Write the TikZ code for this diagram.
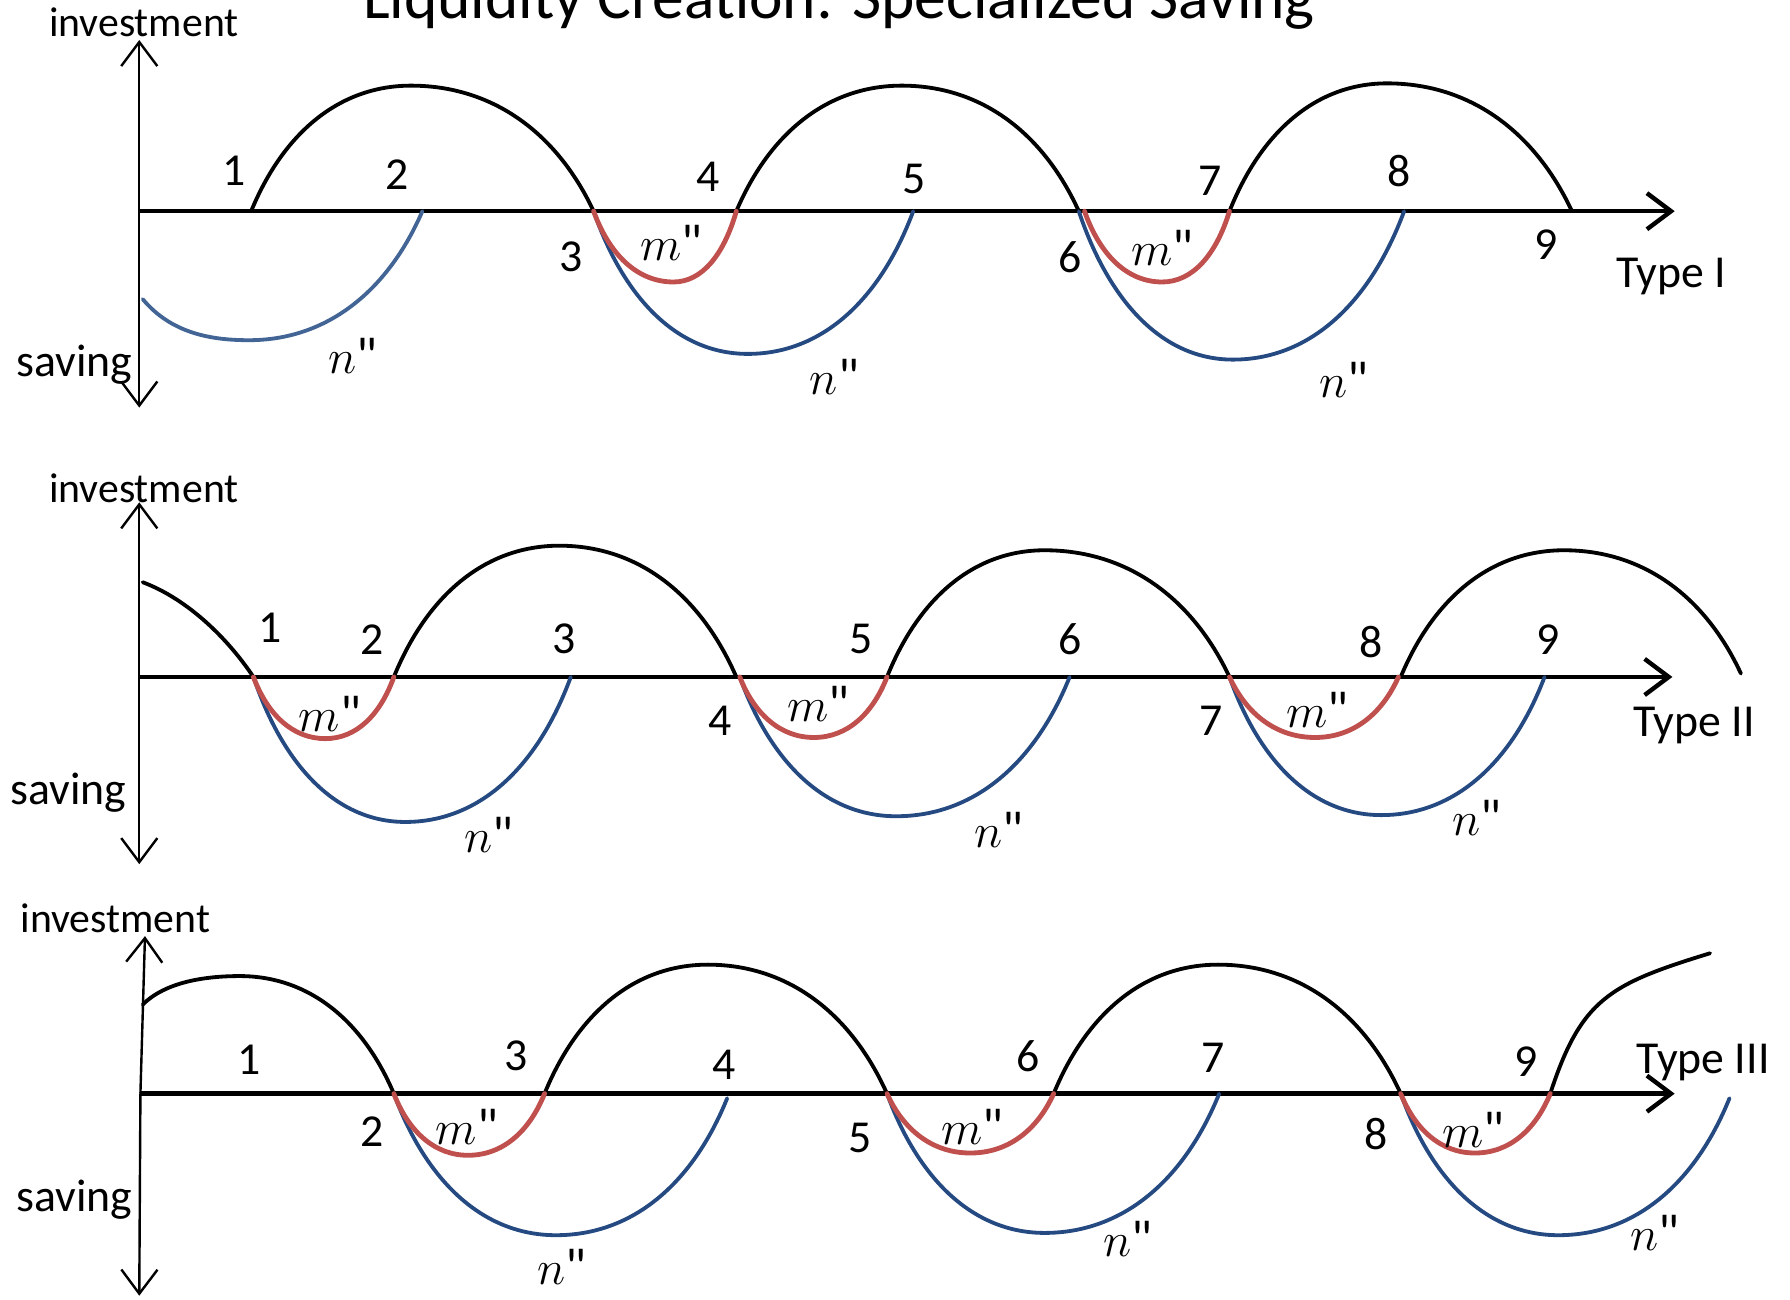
\documentclass[tikz,border=0pt]{standalone}
\usepackage{fontspec}
\setmainfont{Carlito}
\usepackage{tikz}
\usetikzlibrary{arrows.meta}

\definecolor{nblue}{RGB}{37,74,130}
\definecolor{nbluelight}{RGB}{66,101,150}
\definecolor{mred}{RGB}{192,80,77}

% half waves: rise from axis to a top (or bottom), fall back to the axis
\newcommand{\wup}[4]{(#1,#2) .. controls ({#1+(#3-#1)*0.2},{#2+(#4-#2)*0.62}) and ({#3-(#3-#1)*0.45},#4) .. (#3,#4)}
\newcommand{\wdn}[4]{.. controls ({#1+(#3-#1)*0.45},#2) and ({#3-(#3-#1)*0.2},{#4+(#2-#4)*0.62}) .. (#3,#4)}
\newcommand{\dq}{\textquotedbl}

\begin{document}
\begin{tikzpicture}[x=0.01cm,y=-0.01cm,>={Straight Barb[length=6pt,width=9pt]},
  axis/.style={line width=1.1pt},
  vaxis/.style={line width=0.6pt},
  invest/.style={line width=0.95pt,line cap=round},
  nline/.style={nblue,line width=0.95pt,line cap=round},
  mline/.style={mred,line width=1.2pt,line cap=round},
  num/.style={font=\fontsize{11.4}{13}\selectfont},
  var/.style={font=\fontsize{13}{15}\selectfont},
  lab/.style={font=\fontsize{11.4}{13}\selectfont,anchor=base},
  inv/.style={font=\fontsize{10.4}{12}\selectfont,anchor=base}]
  \useasboundingbox (0,0) rectangle (1568,1138);

  \node[anchor=base,font=\fontsize{15.8}{18}\selectfont] (title) at (735,16) {Liquidity Creation: Specialized Saving};

  % Type I
  \coordinate (o1) at (122,185);
  \coordinate (up1) at (122,35);
  \coordinate (dn1) at (122,357);
  \coordinate (rt1) at (1467,185);
  \draw[vaxis,->] (o1) -- (up1);
  \draw[vaxis,->] (o1) -- (dn1);
  \draw[axis,->] (o1) -- (rt1);
  \node[inv] (inv1) at (126,32) {investment};
  \node[lab] (sav1) at (65,330) {saving};
  \node[lab] (type1) at (1464,252) {Type I};

  \draw[invest] \wup{220}{185}{360}{75}\wdn{360}{75}{520}{185};
  \draw[invest] \wup{645}{185}{790}{75}\wdn{790}{75}{945}{185};
  \draw[invest] \wup{1077}{185}{1215}{73}\wdn{1215}{73}{1377}{185};
  \draw[nline,nbluelight] (125,262) .. controls (150,292) and (185,298) .. (218,298) \wdn{218}{298}{370}{185};
  \draw[nline] \wup{520}{185}{655}{310}\wdn{655}{310}{800}{185};
  \draw[nline] \wup{945}{185}{1080}{315}\wdn{1080}{315}{1230}{185};
  \draw[mline] \wup{520}{185}{590}{247}\wdn{590}{247}{645}{185};
  \draw[mline] \wup{950}{185}{1018}{247}\wdn{1018}{247}{1077}{185};

  \foreach \x/\y/\t [count=\i] in {205/150/1,348/153/2,500/225/3,620/155/4,801/157/5,937/225/6,1060/158/7,1226/150/8,1354/214/9}
    \node[num] (p1-\i) at (\x,\y) {\t};
  \node[var] (m1a) at (588,213) {$m$\dq};
  \node[var] (m1b) at (1018,217) {$m$\dq};
  \node[var] (n1a) at (309,312) {$n$\dq};
  \node[var] (n1b) at (731,330) {$n$\dq};
  \node[var] (n1c) at (1177,333) {$n$\dq};

  % Type II
  \coordinate (o2) at (122,593);
  \coordinate (up2) at (122,440);
  \coordinate (dn2) at (122,757);
  \coordinate (rt2) at (1465,593);
  \draw[vaxis,->] (o2) -- (up2);
  \draw[vaxis,->] (o2) -- (dn2);
  \draw[axis,->] (o2) -- (rt2);
  \node[inv] (inv2) at (126,440) {investment};
  \node[lab] (sav2) at (60,705) {saving};
  \node[lab] (type2) at (1484,645) {Type II};

  \draw[invest] (125,510) .. controls (165,525) and (200,560) .. (222,593);
  \draw[invest] \wup{345}{593}{490}{478}\wdn{490}{478}{645}{593};
  \draw[invest] \wup{777}{593}{915}{482}\wdn{915}{482}{1077}{593};
  \draw[invest] \wup{1227}{593}{1370}{482}\wdn{1370}{482}{1525}{590};
  \draw[nline] \wup{222}{593}{355}{720}\wdn{355}{720}{500}{593};
  \draw[nline] \wup{648}{593}{785}{715}\wdn{785}{715}{937}{593};
  \draw[nline] \wup{1077}{593}{1210}{714}\wdn{1210}{714}{1353}{593};
  \draw[mline] \wup{222}{593}{285}{647}\wdn{285}{647}{345}{593};
  \draw[mline] \wup{648}{593}{713}{646}\wdn{713}{646}{777}{593};
  \draw[mline] \wup{1077}{593}{1152}{646}\wdn{1152}{646}{1225}{593};

  \foreach \x/\y/\t [count=\i] in {237/550/1,326/560/2,494/560/3,631/631/4,754/560/5,937/560/6,1061/631/7,1201/562/8,1356/560/9}
    \node[num] (p2-\i) at (\x,\y) {\t};
  \node[var] (m2a) at (289,625) {$m$\dq};
  \node[var] (m2b) at (717,617) {$m$\dq};
  \node[var] (m2c) at (1154,622) {$m$\dq};
  \node[var] (n2a) at (428,731) {$n$\dq};
  \node[var] (n2b) at (875,727) {$n$\dq};
  \node[var] (n2c) at (1294,716) {$n$\dq};

  % Type III
  \coordinate (o3) at (123,958);
  \coordinate (up3) at (127,820);
  \coordinate (dn3) at (122,1135);
  \coordinate (rt3) at (1467,958);
  \draw[vaxis,->] (o3) -- (up3);
  \draw[vaxis,->] (o3) -- (dn3);
  \draw[axis,->] (o3) -- (rt3);
  \node[inv] (inv3) at (101,817) {investment};
  \node[lab] (sav3) at (65,1061) {saving};
  \node[lab] (type3) at (1492,940) {Type III};

  \draw[invest] (125,880) .. controls (145,860) and (180,855) .. (210,855) \wdn{210}{855}{345}{958};
  \draw[invest] \wup{477}{958}{620}{845}\wdn{620}{845}{777}{958};
  \draw[invest] \wup{923}{958}{1067}{845}\wdn{1067}{845}{1227}{958};
  \draw[invest] (1358,958) .. controls (1385,875) and (1410,862) .. (1498,835);
  \draw[nline] \wup{345}{958}{487}{1082}\wdn{487}{1082}{637}{962};
  \draw[nline] \wup{777}{958}{915}{1080}\wdn{915}{1080}{1068}{958};
  \draw[nline] \wup{1227}{958}{1365}{1082}\wdn{1365}{1082}{1515}{962};
  \draw[mline] \wup{345}{958}{410}{1012}\wdn{410}{1012}{477}{958};
  \draw[mline] \wup{777}{958}{850}{1010}\wdn{850}{1010}{923}{958};
  \draw[mline] \wup{1227}{958}{1292}{1010}\wdn{1292}{1010}{1358}{958};

  \foreach \x/\y/\t [count=\i] in {218/928/1,326/991/2,452/925/3,634/933/4,753/997/5,901/925/6,1063/927/7,1205/993/8,1337/930/9}
    \node[num] (p3-\i) at (\x,\y) {\t};
  \node[var] (m3a) at (409,987) {$m$\dq};
  \node[var] (m3b) at (852,987) {$m$\dq};
  \node[var] (m3c) at (1291,990) {$m$\dq};
  \node[var] (n3a) at (492,1110) {$n$\dq};
  \node[var] (n3b) at (988,1085) {$n$\dq};
  \node[var] (n3c) at (1450,1080) {$n$\dq};
\end{tikzpicture}
\end{document}
